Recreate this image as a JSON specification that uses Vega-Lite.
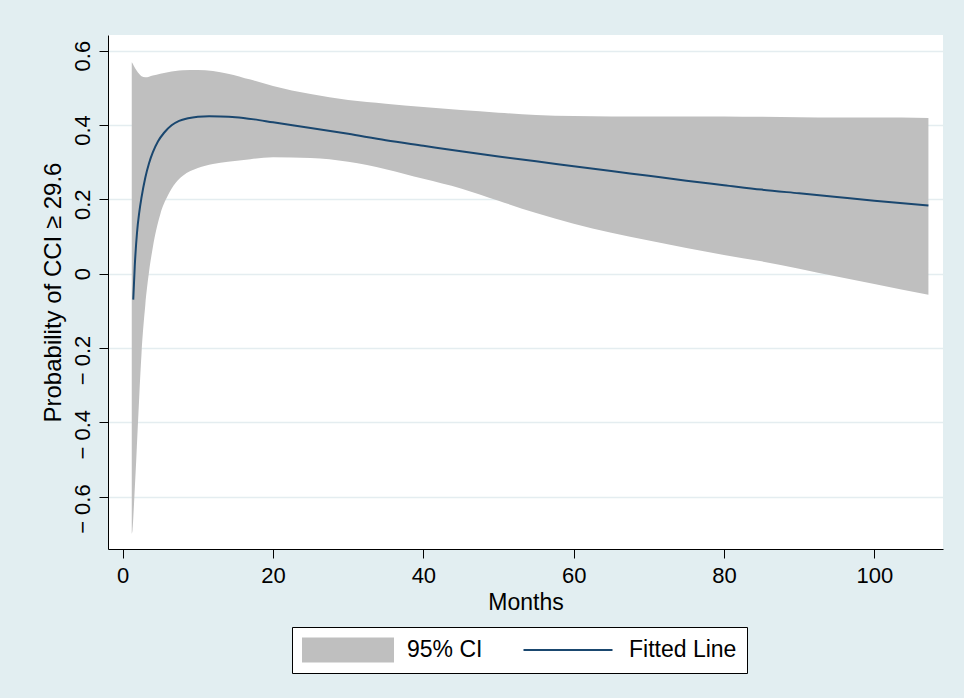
{
  "$schema": "https://vega.github.io/schema/vega-lite/v6.json",
  "width": 835,
  "height": 514,
  "autosize": {"type": "none"},
  "padding": {"left": 108, "top": 35, "right": 21, "bottom": 149},
  "background": "#e2eef1",
  "config": {
    "view": {"fill": "white", "stroke": null},
    "font": "Liberation Sans",
    "axis": {
      "domainColor": "black",
      "domainWidth": 1,
      "tickColor": "black",
      "tickWidth": 1,
      "tickSize": 9,
      "labelColor": "black",
      "titleColor": "black",
      "titleFontWeight": "normal",
      "labelFont": "Liberation Sans",
      "titleFont": "Liberation Sans"
    }
  },
  "datasets": {
    "band": [
      {"month": 1.2, "lo": -0.70, "hi": 0.569},
      {"month": 1.3, "lo": -0.69, "hi": 0.566},
      {"month": 1.5, "lo": -0.62, "hi": 0.558},
      {"month": 1.8, "lo": -0.50, "hi": 0.548},
      {"month": 2.2, "lo": -0.33, "hi": 0.537},
      {"month": 2.5, "lo": -0.215, "hi": 0.531},
      {"month": 3.0, "lo": -0.085, "hi": 0.528},
      {"month": 3.5, "lo": 0.005, "hi": 0.530},
      {"month": 4.0, "lo": 0.07, "hi": 0.533},
      {"month": 5.0, "lo": 0.16, "hi": 0.538},
      {"month": 6.0, "lo": 0.21, "hi": 0.542},
      {"month": 7.0, "lo": 0.243, "hi": 0.545},
      {"month": 8.0, "lo": 0.263, "hi": 0.547},
      {"month": 10, "lo": 0.284, "hi": 0.548},
      {"month": 12, "lo": 0.295, "hi": 0.545},
      {"month": 14, "lo": 0.301, "hi": 0.538},
      {"month": 17, "lo": 0.308, "hi": 0.522},
      {"month": 20, "lo": 0.313, "hi": 0.505},
      {"month": 25, "lo": 0.311, "hi": 0.483},
      {"month": 30, "lo": 0.301, "hi": 0.467},
      {"month": 35, "lo": 0.281, "hi": 0.457},
      {"month": 40, "lo": 0.255, "hi": 0.448},
      {"month": 45, "lo": 0.229, "hi": 0.440},
      {"month": 50, "lo": 0.196, "hi": 0.433},
      {"month": 55, "lo": 0.163, "hi": 0.427},
      {"month": 60, "lo": 0.134, "hi": 0.424},
      {"month": 65, "lo": 0.110, "hi": 0.423},
      {"month": 70, "lo": 0.089, "hi": 0.423},
      {"month": 75, "lo": 0.069, "hi": 0.423},
      {"month": 80, "lo": 0.050, "hi": 0.423},
      {"month": 85, "lo": 0.033, "hi": 0.422},
      {"month": 90, "lo": 0.013, "hi": 0.421},
      {"month": 95, "lo": -0.008, "hi": 0.420},
      {"month": 100, "lo": -0.028, "hi": 0.420},
      {"month": 107.2, "lo": -0.057, "hi": 0.419}
    ],
    "fit": [
      {"month": 1.4, "fit": -0.07},
      {"month": 1.6, "fit": 0.02},
      {"month": 1.9, "fit": 0.11},
      {"month": 2.2, "fit": 0.165},
      {"month": 2.5, "fit": 0.205},
      {"month": 3.0, "fit": 0.258},
      {"month": 3.5, "fit": 0.297},
      {"month": 4.0, "fit": 0.326},
      {"month": 4.7, "fit": 0.356},
      {"month": 5.5, "fit": 0.379},
      {"month": 6.5, "fit": 0.399},
      {"month": 7.5, "fit": 0.411},
      {"month": 8.7, "fit": 0.418},
      {"month": 10, "fit": 0.422},
      {"month": 11.5, "fit": 0.4235},
      {"month": 13, "fit": 0.423},
      {"month": 15, "fit": 0.421},
      {"month": 17.5, "fit": 0.415},
      {"month": 20, "fit": 0.407},
      {"month": 25, "fit": 0.392},
      {"month": 30, "fit": 0.376},
      {"month": 35, "fit": 0.359},
      {"month": 40, "fit": 0.344},
      {"month": 45, "fit": 0.329},
      {"month": 50, "fit": 0.315},
      {"month": 55, "fit": 0.302},
      {"month": 60, "fit": 0.289},
      {"month": 65, "fit": 0.276},
      {"month": 70, "fit": 0.263},
      {"month": 75, "fit": 0.250},
      {"month": 80, "fit": 0.238},
      {"month": 85, "fit": 0.226},
      {"month": 90, "fit": 0.216},
      {"month": 95, "fit": 0.206},
      {"month": 100, "fit": 0.196},
      {"month": 107.2, "fit": 0.183}
    ]
  },
  "encoding": {
    "x": {
      "field": "month",
      "type": "quantitative",
      "scale": {"domain": [-1.96, 109.14], "nice": false, "zero": false},
      "axis": {
        "title": "Months",
        "values": [0, 20, 40, 60, 80, 100],
        "grid": false,
        "labelFontSize": 22,
        "labelPadding": 7,
        "titleFontSize": 23,
        "titlePadding": 5
      }
    }
  },
  "layer": [
    {
      "data": {"name": "band"},
      "mark": {"type": "area", "opacity": 1, "interpolate": "monotone"},
      "encoding": {
        "y": {
          "field": "hi",
          "type": "quantitative",
          "scale": {"domain": [-0.741, 0.642], "nice": false, "zero": false},
          "axis": {
            "title": "Probability of CCI ≥ 29.6",
            "values": [-0.6, -0.4, -0.2, 0, 0.2, 0.4, 0.6],
            "labelExpr": "datum.value < 0 ? '− ' + format(-datum.value, '.1~f') : format(datum.value, '.1~f')",
            "labelAngle": 270,
            "labelAlign": "center",
            "labelBaseline": "alphabetic",
            "labelPadding": 10,
            "labelFontSize": 22,
            "labelOffset": {"condition": [{"test": "datum.value < -0.01", "value": 12}, {"test": "datum.value > 0.01", "value": 5}], "value": 0},
            "grid": true,
            "gridColor": "#e4edf0",
            "gridWidth": 1.5,
            "titleFontSize": 24,
            "titlePadding": 6
          }
        },
        "y2": {"field": "lo"},
        "color": {
          "datum": "95% CI",
          "type": "nominal",
          "scale": {"domain": ["95% CI", "Fitted Line"], "range": ["#bfbfbf", "transparent"]},
          "legend": {
            "title": null,
            "orient": "none",
            "legendX": 184,
            "legendY": 592,
            "direction": "horizontal",
            "columns": 2,
            "fillColor": "white",
            "strokeColor": "black",
            "padding": 10,
            "cornerRadius": 0,
            "symbolType": "M-1,-0.27H1V0.27H-1Z",
            "symbolSize": 8464,
            "symbolStrokeWidth": 0,
            "symbolOpacity": 1,
            "clipHeight": 26,
            "labelFontSize": 23,
            "labelFont": "Liberation Sans",
            "labelColor": "black",
            "labelOffset": 13,
            "columnPadding": 41,
            "labelLimit": 400
          }
        }
      }
    },
    {
      "data": {"name": "fit"},
      "mark": {"type": "line", "strokeWidth": 2, "interpolate": "monotone"},
      "encoding": {
        "y": {"field": "fit", "type": "quantitative"},
        "stroke": {
          "datum": " ",
          "type": "nominal",
          "scale": {"domain": [" "], "range": ["#1a476f"]},
          "legend": {
            "title": null,
            "orient": "none",
            "legendX": 414.5,
            "legendY": 602,
            "padding": 0,
            "symbolType": "stroke",
            "symbolSize": 7921,
            "symbolStrokeWidth": 2,
            "symbolOpacity": 1,
            "clipHeight": 26,
            "labelFontSize": 1,
            "labelOpacity": 0,
            "labelOffset": 0
          }
        }
      }
    }
  ]
}
